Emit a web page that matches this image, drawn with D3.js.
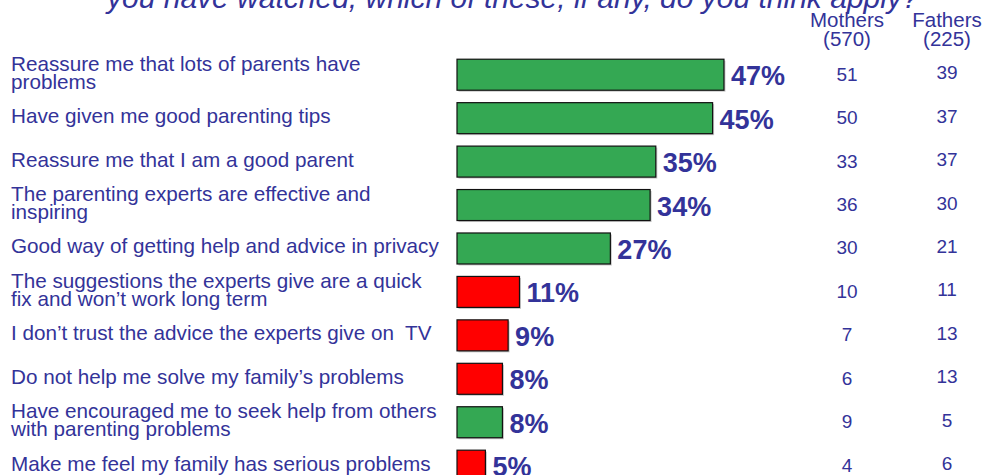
<!DOCTYPE html>
<html>
<head>
<meta charset="utf-8">
<script src="https://cdn.jsdelivr.net/npm/d3@7"></script>
<style>
  html, body { margin: 0; padding: 0; background: #ffffff; }
  svg { display: block; }
  text { font-family: "Liberation Sans", Arial, Helvetica, sans-serif; white-space: pre; }
</style>
</head>
<body>
<svg id="chart" width="983" height="475"></svg>
<script>
// ---- data ----
const titleLine = "you have watched, which of these, if any, do you think apply?";
const categories = [
  ["Reassure me that lots of parents have", "problems"],
  ["Have given me good parenting tips"],
  ["Reassure me that I am a good parent"],
  ["The parenting experts are effective and", "inspiring"],
  ["Good way of getting help and advice in privacy"],
  ["The suggestions the experts give are a quick", "fix and won\u2019t work long term"],
  ["I don\u2019t trust the advice the experts give on  TV"],
  ["Do not help me solve my family\u2019s problems"],
  ["Have encouraged me to seek help from others", "with parenting problems"],
  ["Make me feel my family has serious problems"]
];
const totals = [47, 45, 35, 34, 27, 11, 9, 8, 8, 5];
const sentiment = ["pos", "pos", "pos", "pos", "pos", "neg", "neg", "neg", "pos", "neg"];
const mothers = [51, 50, 33, 36, 30, 10, 7, 6, 9, 4];
const fathers = [39, 37, 37, 30, 21, 11, 13, 13, 5, 6];
const columnHeads = [["Mothers", "(570)"], ["Fathers", "(225)"]];

// ---- layout ----
const svg = d3.select("#chart");
const textColor = "#333399";
const colors = { pos: "#34A853", neg: "#FF0000" };

const ids = d3.range(categories.length);
const x = d3.scaleLinear().domain([0, 100]).range([457, 457 + 568]);
const y = d3.scaleBand().domain(ids).range([53, 53 + 434.4]).paddingInner(0.2864).paddingOuter(0.1432);
const colX = d3.scalePoint().domain([0, 1]).range([847, 947]);

// title (second line, top clipped by the frame)
svg.append("text")
  .attr("x", 107).attr("y", 8)
  .attr("font-size", 30).attr("font-style", "italic")
  .attr("fill", textColor)
  .text(titleLine);

// column headers
columnHeads.forEach((lines, c) => {
  const t = svg.append("text")
    .attr("x", colX(c)).attr("y", 27)
    .attr("text-anchor", "middle")
    .attr("font-size", 20.5).attr("fill", textColor);
  lines.forEach((l, i) => t.append("tspan").attr("x", colX(c)).attr("dy", i === 0 ? 0 : 19).text(l));
});

const rows = svg.append("g").selectAll("g").data(ids).join("g");

// category labels
rows.each(function(i) {
  const lines = categories[i];
  const cy = y(i) + y.bandwidth() / 2;
  const first = lines.length === 1 ? cy + 5 : cy - 4;
  const t = d3.select(this).append("text")
    .attr("x", 11).attr("y", first)
    .attr("font-size", 20.7).attr("fill", textColor);
  lines.forEach((l, k) => t.append("tspan").attr("x", 11).attr("dy", k === 0 ? 0 : 18).text(l));
});

// bar shadows
rows.append("rect")
  .attr("x", x(0) + 1.5).attr("y", i => y(i) + 1.5)
  .attr("width", i => x(totals[i]) - x(0)).attr("height", y.bandwidth())
  .attr("fill", "#c8c8c8");

// bars
rows.append("rect")
  .attr("x", x(0)).attr("y", i => y(i))
  .attr("width", i => x(totals[i]) - x(0)).attr("height", y.bandwidth())
  .attr("fill", i => colors[sentiment[i]])
  .attr("stroke", "#111").attr("stroke-width", 1.2);

// value labels
rows.append("text")
  .attr("x", i => x(totals[i]) + 7)
  .attr("y", i => y(i) + y.bandwidth() / 2 + 10.5)
  .attr("font-size", 27).attr("font-weight", "bold")
  .attr("fill", textColor)
  .text(i => totals[i] + "%");

// mothers / fathers columns
rows.append("text")
  .attr("x", colX(0)).attr("y", i => y(i) + y.bandwidth() / 2 + 6)
  .attr("text-anchor", "middle").attr("font-size", 19).attr("fill", textColor)
  .text(i => mothers[i]);
rows.append("text")
  .attr("x", colX(1)).attr("y", i => y(i) + y.bandwidth() / 2 + 4.5)
  .attr("text-anchor", "middle").attr("font-size", 19).attr("fill", textColor)
  .text(i => fathers[i]);
</script>
</body>
</html>
